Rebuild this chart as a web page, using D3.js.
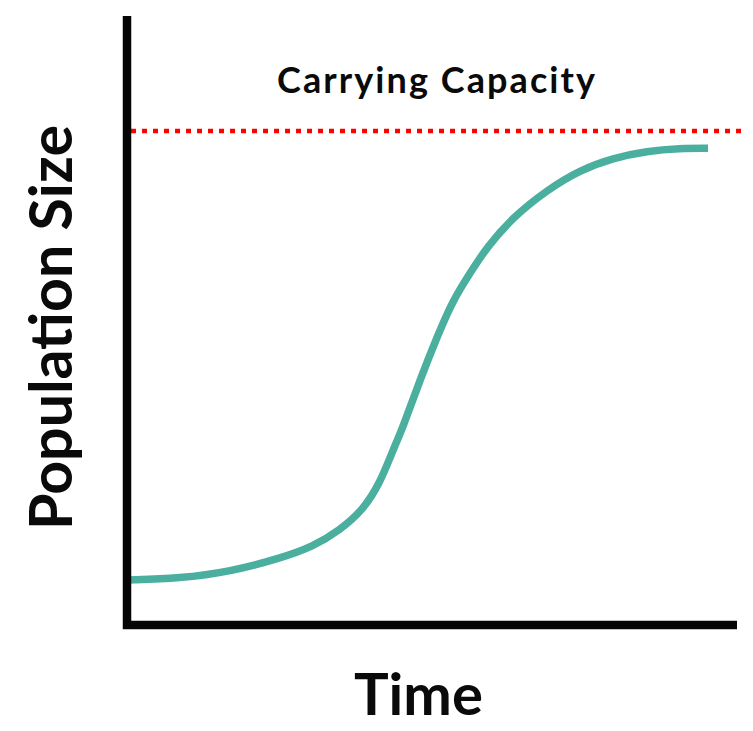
<!DOCTYPE html>
<html>
<head>
<meta charset="utf-8">
<script src="https://cdn.jsdelivr.net/npm/d3@7"></script>
<style>
  html, body { margin: 0; padding: 0; background: #ffffff; }
  svg { display: block; }
  text { font-family: Lato, "Open Sans", sans-serif; fill: #0a0a0a; }
</style>
</head>
<body>
<div id="chart"></div>
<script>
// ---- data ----
const timeValues = [0, 8.69, 16.89, 25.08, 30.49, 34.92, 38.69, 41.48, 43.61, 45.25, 48.03, 50.82, 53.44, 56.23, 59.02, 63.28, 68.85, 74.26, 79.67, 85.25, 90.66, 95.25];
const populationValues = [9.1, 9.45, 10.79, 13.5, 15.85, 19.23, 23.28, 28.74, 35.43, 40.08, 49.6, 58.3, 65.79, 71.26, 76.52, 82.59, 88.06, 92.11, 94.53, 95.95, 96.5, 96.5];
const carryingCapacity = 100;
const capacitySpan = [0.66, 101.1];
const xDomain = [0, 100];
const yDomain = [0, 123.3];
const labels = { x: "Time", y: "Population Size", capacity: "Carrying Capacity" };

// ---- chart ----
const W = 753, H = 731;
const svg = d3.select("#chart").append("svg").attr("width", W).attr("height", H);

const x = d3.scaleLinear().domain(xDomain).range([127, 737]);
const y = d3.scaleLinear().domain(yDomain).range([625, 16]);

const pts = timeValues.map((t, i) => [t, populationValues[i]]);

// carrying capacity line
svg.append("line")
  .attr("x1", x(capacitySpan[0])).attr("x2", x(capacitySpan[1]))
  .attr("y1", y(carryingCapacity)).attr("y2", y(carryingCapacity))
  .attr("stroke", "#ff0000")
  .attr("stroke-width", 4.5)
  .attr("stroke-dasharray", "5 6");

// growth curve
svg.append("path")
  .datum(pts)
  .attr("fill", "none")
  .attr("stroke", "#4aaf9e")
  .attr("stroke-width", 7.5)
  .attr("d", d3.line().x(d => x(d[0])).y(d => y(d[1])).curve(d3.curveBasis));

// axes (L-shape)
const axisPts = [[xDomain[0], yDomain[1]], [xDomain[0], yDomain[0]], [xDomain[1], yDomain[0]]];
svg.append("path")
  .datum(axisPts)
  .attr("fill", "none")
  .attr("stroke", "#050505")
  .attr("stroke-width", 8.5)
  .attr("stroke-linejoin", "miter")
  .attr("d", d3.line().x(d => x(d[0])).y(d => y(d[1])));

// labels
svg.append("text")
  .attr("x", 418.5).attr("y", 715)
  .attr("text-anchor", "middle")
  .attr("font-size", 58)
  .attr("font-weight", 700)
  .text(labels.x);

svg.append("text")
  .attr("transform", "translate(72,327.5) rotate(-90)")
  .attr("text-anchor", "middle")
  .attr("font-size", 59)
  .attr("font-weight", 700)
  .text(labels.y);

svg.append("text")
  .attr("x", 436).attr("y", 93)
  .attr("text-anchor", "middle")
  .attr("font-size", 36)
  .attr("font-weight", 700)
  .attr("textLength", 318)
  .attr("lengthAdjust", "spacing")
  .text(labels.capacity);
</script>
</body>
</html>
